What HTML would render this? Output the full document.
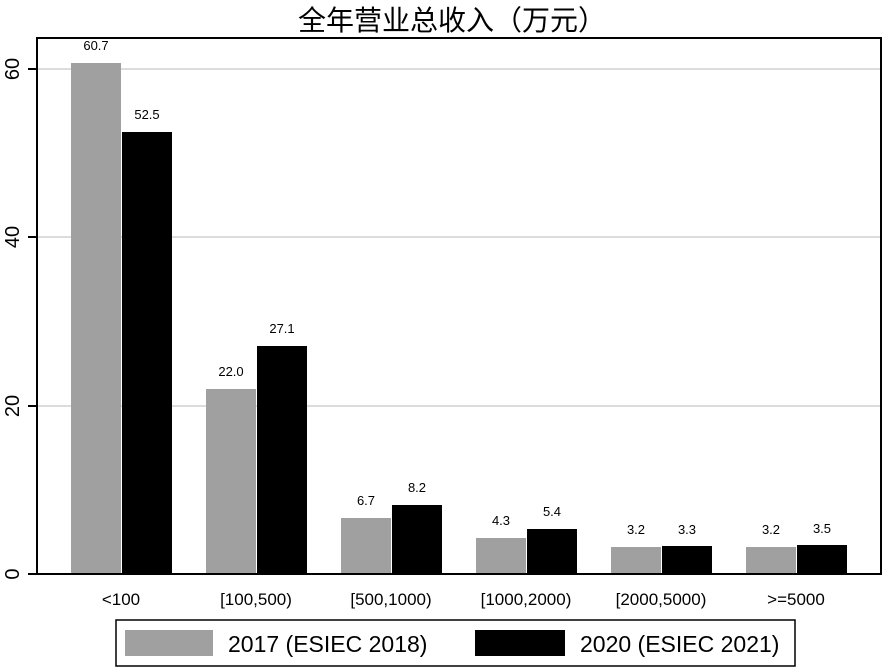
<!DOCTYPE html>
<html><head><meta charset="utf-8"><style>body{margin:0;background:#fff}svg{display:block}</style></head><body>
<svg width="883" height="668" xmlns="http://www.w3.org/2000/svg" font-family="Liberation Sans, sans-serif">
<rect width="883" height="668" fill="#fff"/>
<text x="452" y="30" font-size="28" text-anchor="middle" font-family="Liberation Sans, Noto Sans CJK SC, sans-serif">全年营业总收入（万元）</text>
<g stroke="#dcdcdc" stroke-width="2">
<line x1="37" y1="69" x2="881" y2="69"/><line x1="37" y1="237" x2="881" y2="237"/><line x1="37" y1="406" x2="881" y2="406"/>
</g>
<g fill="#a0a0a0">
<rect x="71" y="63" width="50" height="511"/>
<rect x="206" y="389" width="50" height="185"/>
<rect x="341" y="518" width="50" height="56"/>
<rect x="476" y="538" width="50" height="36"/>
<rect x="611" y="547" width="50" height="27"/>
<rect x="746" y="547" width="50" height="27"/>
</g>
<g fill="#000">
<rect x="122" y="132" width="50" height="442"/>
<rect x="257" y="346" width="50" height="228"/>
<rect x="392" y="505" width="50" height="69"/>
<rect x="527" y="529" width="50" height="45"/>
<rect x="662" y="546" width="50" height="28"/>
<rect x="797" y="545" width="50" height="29"/>
</g>
<rect x="37" y="38" width="844" height="536" fill="none" stroke="#000" stroke-width="2"/>
<g stroke="#000" stroke-width="2">
<line x1="28" y1="69" x2="37" y2="69"/><line x1="28" y1="237" x2="37" y2="237"/><line x1="28" y1="406" x2="37" y2="406"/><line x1="28" y1="574" x2="37" y2="574"/>
</g>
<g font-size="20" text-anchor="middle">
<text transform="translate(19,69) rotate(-90)">60</text>
<text transform="translate(19,237) rotate(-90)">40</text>
<text transform="translate(19,406) rotate(-90)">20</text>
<text transform="translate(19,574) rotate(-90)">0</text>
</g>
<g font-size="13" text-anchor="middle">
<text x="96" y="50">60.7</text><text x="147" y="119">52.5</text>
<text x="231" y="376">22.0</text><text x="282" y="333">27.1</text>
<text x="366" y="505">6.7</text><text x="417" y="492">8.2</text>
<text x="501" y="525">4.3</text><text x="552" y="516">5.4</text>
<text x="636" y="534">3.2</text><text x="687" y="534">3.3</text>
<text x="771" y="534">3.2</text><text x="822" y="533">3.5</text>
</g>
<g font-size="17" text-anchor="middle">
<text x="121" y="605">&lt;100</text><text x="256" y="605">[100,500)</text><text x="391" y="605">[500,1000)</text>
<text x="526" y="605">[1000,2000)</text><text x="661" y="605">[2000,5000)</text><text x="796" y="605">&gt;=5000</text>
</g>
<rect x="116" y="620" width="679" height="46" fill="none" stroke="#000" stroke-width="1.5"/>
<rect x="125" y="630" width="88" height="26" fill="#a0a0a0"/>
<rect x="475" y="630" width="90" height="26" fill="#000"/>
<g font-size="23"><text x="228" y="652">2017 (ESIEC 2018)</text><text x="580" y="652">2020 (ESIEC 2021)</text></g>
</svg>
</body></html>
